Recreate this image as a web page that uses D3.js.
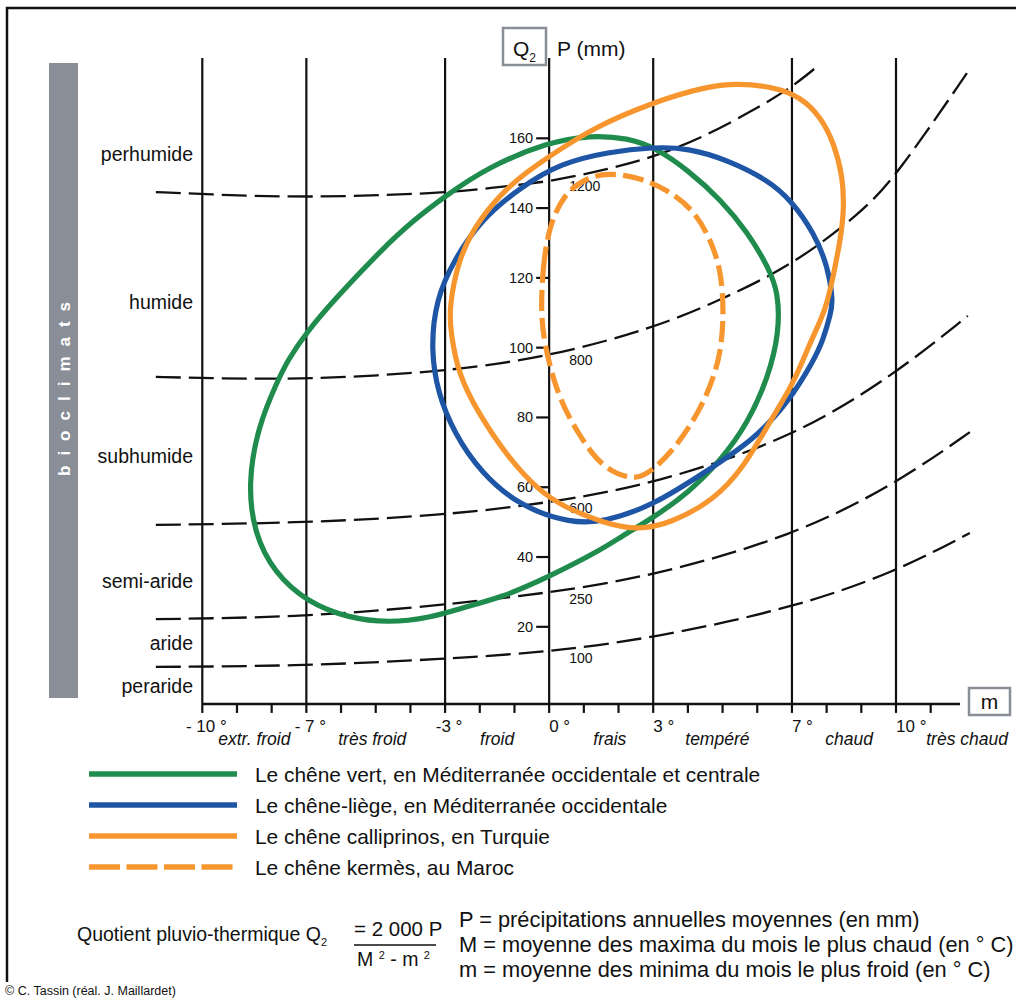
<!DOCTYPE html>
<html>
<head>
<meta charset="utf-8">
<script src="https://cdn.jsdelivr.net/npm/d3@7"></script>
<style>
  html, body { margin: 0; padding: 0; background: #fff; }
  svg { display: block; font-family: "Liberation Sans", Arial, sans-serif; }
</style>
</head>
<body>
<div id="chart"></div>
<script>
// m (°C) zones along the bottom
const zoneTicks = [-10, -7, -3, 0, 3, 7, 10];
const zoneTickLabels = ["- 10 °", "- 7 °", "-3 °", "0 °", "3 °", "7 °", "10 °"];
const zoneNames = ["extr. froid", "très froid", "froid", "frais", "tempéré", "chaud", "très chaud"];
const zoneCenters = [-8.5, -5.1, -1.5, 1.75, 4.85, 8.65, 12.05];
const minorTicks = d3.range(-10, 12);

// Q2 scale
const q2Ticks = [20, 40, 60, 80, 100, 120, 140, 160];

// bioclimate names, placed at a Q2 level
const bioclimats = ["perhumide", "humide", "subhumide", "semi-aride", "aride", "peraride"];
const bioclimatQ = [153.5, 111.1, 67.0, 31.1, 13.4, 1.0];

// iso-lines (m, Q2) with their P labels
const isoLabels = ["1200", "800", "600", "250", "100"];
const iso1200 = [[-11.34,144.6],[-9.98,144.0],[-7.01,142.9],[-3.0,144.3],[-1.76,145.7],[0,147.5],[1.58,150.9],[3.02,154.6],[4.46,160.4],[5.9,168.1],[6.97,174.4],[7.78,181.0]];
const iso800 = [[-11.34,91.6],[-9.98,91.3],[-7.01,90.8],[-3.0,93.1],[0,97.4],[3.02,105.6],[4.95,113.7],[7.03,123.7],[8.99,138.6],[9.99,148.9],[12.13,179.9]];
const iso600 = [[-11.34,49.2],[-7.01,49.8],[-3.0,52.0],[0,55.5],[3.02,60.9],[7.03,74.1],[9.99,92.5],[12.07,109.1]];
const iso250 = [[-11.34,22.2],[-7.01,22.8],[-3.0,26.3],[0,29.7],[3.02,34.6],[7.03,46.0],[9.99,60.9],[12.13,75.8]];
const iso100 = [[-11.34,8.5],[-7.01,8.8],[-3.0,10.8],[0,12.8],[3.02,16.8],[7.03,25.4],[9.99,35.7],[12.13,46.9]];

// species envelopes (m, Q2)
const chenesVert = [[-3.03,143.2],[-1.76,151.8],[-0.03,158.9],[1.20,160.9],[2.27,160.1],[3.08,157.2],[4.00,150.9],[4.96,142.3],[5.73,132.9],[6.32,123.1],[6.61,115.7],[6.63,104.2],[6.32,91.6],[5.73,78.4],[4.96,67.8],[4.00,58.3],[3.02,51.4],[2.07,45.8],[1.49,42.0],[-0.01,34.3],[-1.39,28.3],[-2.54,25.4],[-3.41,22.6],[-4.65,21.1],[-5.80,22.6],[-6.95,26.9],[-7.93,35.5],[-8.51,46.9],[-8.68,61.2],[-8.40,77.3],[-7.82,90.7],[-7.53,96.5],[-7.01,104.2],[-6.20,113.7],[-4.76,128.8],[-3.93,136.3]];
const chenesLiege = [[-3.27,113.7],[-2.74,125.2],[-1.97,136.6],[-0.81,146.1],[0.34,152.9],[1.70,156.1],[3.02,157.5],[4.00,157.2],[5.15,153.8],[6.31,148.0],[6.97,142.3],[7.64,132.9],[8.04,123.1],[8.18,113.7],[8.13,110.2],[7.90,102.2],[7.64,96.5],[6.89,84.2],[5.90,73.6],[4.46,64.1],[3.02,54.9],[1.58,50.0],[0.63,49.7],[-0.81,54.3],[-1.97,64.1],[-2.74,75.5],[-3.21,87.0],[-3.41,99.3]];
const chenesCalliprinos = [[-2.89,110.8],[-2.63,125.2],[-2.05,136.6],[-1.10,147.2],[-0.03,154.6],[1.29,163.2],[3.02,170.4],[4.46,174.7],[5.44,175.8],[6.48,174.7],[7.26,171.8],[7.83,166.1],[8.21,158.7],[8.47,148.9],[8.50,139.5],[8.41,131.7],[8.21,121.4],[7.98,110.8],[7.55,102.2],[7.06,89.9],[6.39,79.3],[5.62,65.8],[4.75,56.3],[3.51,49.7],[2.56,47.7],[1.58,49.7],[0.43,54.3],[-0.32,59.2],[-1.19,68.6],[-2.05,81.3],[-2.63,92.7],[-2.83,104.2]];
const chenesKermes = [[-0.24,110.8],[-0.18,123.1],[-0.01,134.6],[0.43,144.3],[1.12,148.9],[1.70,150.0],[2.56,148.9],[3.42,145.2],[4.17,139.5],[4.66,130.9],[4.95,122.3],[5.04,110.8],[4.95,96.5],[4.38,82.2],[3.60,70.7],[2.85,63.6],[2.36,62.1],[1.49,65.8],[0.83,75.5],[0.25,85.9],[-0.15,101.3]];

const legendLabels = [
  "Le chêne vert, en Méditerranée occidentale et centrale",
  "Le chêne-liège, en Méditerranée occidentale",
  "Le chêne calliprinos, en Turquie",
  "Le chêne kermès, au Maroc"
];

const W = 1016, H = 1001;
const GREEN = "#1f8c4e", BLUE = "#1f55a5", ORANGE = "#f7962f", GREY = "#8a8e96";

const svg = d3.select("#chart").append("svg")
  .attr("width", W).attr("height", H);

const x = d3.scaleLinear().domain([-10, 10]).range([202.3, 896]);
const y = d3.scaleLinear().domain([0, 160]).range([696.6, 138.3]);
const gridTopQ = 183, axisQ = -2.1;

// outer frame (cut at right)
svg.append("path")
  .attr("d", "M7,982 V8 H1016")
  .attr("fill", "none").attr("stroke", "#111").attr("stroke-width", 2.5);

// grey side bar
svg.append("rect")
  .attr("x", 49).attr("y", 63).attr("width", 29).attr("height", 635)
  .attr("fill", GREY);
svg.append("text")
  .attr("transform", "translate(70,476) rotate(-90)")
  .attr("fill", "#fff").attr("font-weight", "bold")
  .attr("font-size", 17).attr("letter-spacing", 10)
  .text("bioclimats");

// zone verticals
svg.append("g").selectAll("line")
  .data(zoneTicks).join("line")
  .attr("x1", d => x(d)).attr("x2", d => x(d))
  .attr("y1", y(gridTopQ)).attr("y2", y(axisQ))
  .attr("stroke", "#111").attr("stroke-width", 2.2);

// bottom axis
const axisG = svg.append("g").attr("transform", `translate(0,${y(axisQ)})`);
axisG.append("line")
  .attr("x1", x(-10)).attr("x2", 960)
  .attr("stroke", "#111").attr("stroke-width", 2.5);
axisG.selectAll(".tk").data(minorTicks).join("line")
  .attr("x1", d => x(d)).attr("x2", d => x(d))
  .attr("y1", 0).attr("y2", 9)
  .attr("stroke", "#111").attr("stroke-width", 2.2);

svg.append("g").selectAll("text")
  .data(zoneTicks).join("text")
  .attr("x", d => d < 0 ? x(d) + 4 : x(d))
  .attr("y", 732)
  .attr("text-anchor", d => d < 0 ? "middle" : "start")
  .attr("font-size", 17).attr("fill", "#111")
  .text((d, i) => zoneTickLabels[i]);

svg.append("g").selectAll("text")
  .data(zoneNames).join("text")
  .attr("x", (d, i) => x(zoneCenters[i]))
  .attr("y", 745)
  .attr("text-anchor", "middle")
  .attr("font-size", 17.5).attr("font-style", "italic").attr("fill", "#111")
  .text(d => d);

// m box
svg.append("rect")
  .attr("x", 969).attr("y", 688).attr("width", 41).attr("height", 27)
  .attr("fill", "#fff").attr("stroke", GREY).attr("stroke-width", 2.5);
svg.append("text")
  .attr("x", 989.5).attr("y", 709).attr("text-anchor", "middle")
  .attr("font-size", 21).attr("fill", "#111").text("m");

// Q2 ticks on the 0° line
const yAxisG = svg.append("g");
yAxisG.selectAll("line").data(q2Ticks).join("line")
  .attr("x1", x(0) - 13).attr("x2", x(0))
  .attr("y1", d => y(d)).attr("y2", d => y(d))
  .attr("stroke", "#111").attr("stroke-width", 2.2);
yAxisG.selectAll("text").data(q2Ticks).join("text")
  .attr("x", x(0) - 16).attr("y", d => y(d) + 5)
  .attr("text-anchor", "end").attr("font-size", 14.5).attr("fill", "#111")
  .text(d => d);

// Q2 box and P (mm)
svg.append("rect")
  .attr("x", 503).attr("y", 28).attr("width", 43).attr("height", 37)
  .attr("fill", "#fff").attr("stroke", GREY).attr("stroke-width", 2.5);
const q2t = svg.append("text").attr("x", 513).attr("y", 56)
  .attr("font-size", 21).attr("fill", "#111");
q2t.append("tspan").text("Q");
q2t.append("tspan").attr("font-size", 12).attr("dy", 6).text("2");
svg.append("text").attr("x", 557).attr("y", 56)
  .attr("font-size", 21).attr("fill", "#111").text("P (mm)");

// bioclimate labels
svg.append("g").selectAll("text")
  .data(bioclimats).join("text")
  .attr("x", 193).attr("y", (d, i) => y(bioclimatQ[i]))
  .attr("text-anchor", "end").attr("font-size", 19.5).attr("fill", "#111")
  .text(d => d);

// iso-lines
const isoLines = [iso1200, iso800, iso600, iso250, iso100];
const isoLine = d3.line().x(d => x(d[0])).y(d => y(d[1])).curve(d3.curveBasis);
svg.append("g").selectAll("path")
  .data(isoLines).join("path")
  .attr("d", isoLine)
  .attr("fill", "none").attr("stroke", "#111")
  .attr("stroke-width", 2.3).attr("stroke-dasharray", "25,8");

function qAt(line, m) {
  for (let i = 1; i < line.length; i++) {
    if (line[i][0] >= m) {
      const [m0, q0] = line[i - 1], [m1, q1] = line[i];
      return q0 + (q1 - q0) * (m - m0) / (m1 - m0);
    }
  }
  return line[line.length - 1][1];
}
svg.append("g").selectAll("text")
  .data(isoLabels).join("text")
  .attr("x", x(0) + 20)
  .attr("y", (d, i) => y(qAt(isoLines[i], 0.6)) + 14)
  .attr("font-size", 14).attr("fill", "#111")
  .text(d => d);

// species envelopes
const closed = d3.line().x(d => x(d[0])).y(d => y(d[1])).curve(d3.curveBasisClosed);
const species = [
  { pts: chenesVert, color: GREEN, dash: null },
  { pts: chenesLiege, color: BLUE, dash: null },
  { pts: chenesCalliprinos, color: ORANGE, dash: null },
  { pts: chenesKermes, color: ORANGE, dash: "21,7" }
];
svg.append("g").selectAll("path")
  .data(species).join("path")
  .attr("d", d => closed(d.pts))
  .attr("fill", "none")
  .attr("stroke", d => d.color)
  .attr("stroke-width", 5.2)
  .attr("stroke-dasharray", d => d.dash);

// legend
const legendDash = [null, null, null, "31,6.5"];
const lg = svg.append("g").selectAll("g")
  .data(legendLabels).join("g")
  .attr("transform", (d, i) => `translate(0,${774 + i * 31})`);
lg.append("line")
  .attr("x1", 89).attr("x2", 237)
  .attr("stroke", (d, i) => species[i].color)
  .attr("stroke-width", 5.5)
  .attr("stroke-dasharray", (d, i) => legendDash[i]);
lg.append("text")
  .attr("x", 255).attr("y", 7.5)
  .attr("font-size", 20.9).attr("fill", "#111")
  .text(d => d);

// formula
const f = svg.append("g").attr("fill", "#111");
const ft = f.append("text").attr("x", 77).attr("y", 941).attr("font-size", 19.5);
ft.append("tspan").text("Quotient pluvio-thermique Q");
ft.append("tspan").attr("font-size", 11).attr("dy", 5).text("2");
f.append("text").attr("x", 354).attr("y", 936).attr("font-size", 20.5).text("= 2 000 P");
f.append("line").attr("x1", 354).attr("x2", 436).attr("y1", 945).attr("y2", 945)
  .attr("stroke", "#111").attr("stroke-width", 1.3);
const den = f.append("text").attr("x", 357).attr("y", 966).attr("font-size", 19.5);
den.append("tspan").text("M ");
den.append("tspan").attr("font-size", 11).attr("dy", -7).text("2");
den.append("tspan").attr("dy", 7).text(" - m ");
den.append("tspan").attr("font-size", 11).attr("dy", -7).text("2");

const defs = [
  "P = précipitations annuelles moyennes (en mm)",
  "M = moyenne des maxima du mois le plus chaud (en ° C)",
  "m = moyenne des minima du mois le plus froid (en ° C)"
];
f.selectAll(".def").data(defs).join("text")
  .attr("x", 459).attr("y", (d, i) => 927 + i * 25)
  .attr("font-size", 21.8).text(d => d);

svg.append("text").attr("x", 5).attr("y", 995)
  .attr("font-size", 12.5).attr("fill", "#111")
  .text("© C. Tassin (réal. J. Maillardet)");
</script>
</body>
</html>
